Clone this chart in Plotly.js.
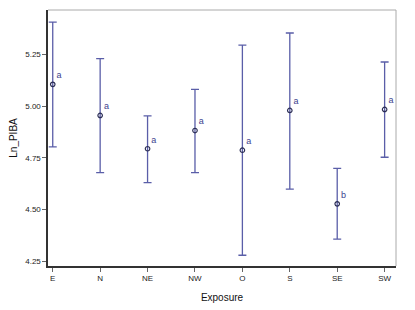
<!DOCTYPE html>
<html>
<head>
<meta charset="utf-8">
<script src="https://cdn.plot.ly/plotly-3.0.1.min.js"></script>
<style>html,body{margin:0;padding:0;background:#fff;}#chart{width:415px;height:310px;}</style>
</head>
<body>
<div id="chart"></div>
<script>
var categories = ["E","N","NE","NW","O","S","SE","SW"];
var means = [5.105, 4.955, 4.794, 4.882, 4.787, 4.979, 4.528, 4.984];
var upper = [5.405, 5.229, 4.953, 5.081, 5.294, 5.353, 4.699, 5.213];
var lower = [4.803, 4.679, 4.631, 4.679, 4.280, 4.599, 4.358, 4.753];
var groups = ["a","a","a","a","a","a","b","a"];
var yTicks = [4.25, 4.50, 4.75, 5.00, 5.25];
var yTickLabels = ["4.25","4.50","4.75","5.00","5.25"];

var plus = upper.map(function(u,i){return u - means[i];});
var minus = lower.map(function(l,i){return means[i] - l;});
var xIdx = categories.map(function(c,i){return i;});

var font = "'Liberation Sans Narrow', 'Arial Narrow', 'Liberation Sans', Arial, sans-serif";

var traces = [{
  type: 'scatter', mode: 'markers+text',
  x: xIdx, y: means,
  text: groups, textposition: 'top right',
  textfont: {family: font, size: 9, color: '#3c418e'},
  marker: {symbol: 'circle-open', size: 4.5, color: '#2b2d55', line: {width: 1.2, color: '#2b2d55'}},
  error_y: {type: 'data', symmetric: false, array: plus, arrayminus: minus,
            color: '#5a5ea8', thickness: 1.3, width: 4},
  cliponaxis: false,
  showlegend: false, hoverinfo: 'none'
}];

var layout = {
  width: 415, height: 310,
  margin: {l: 48, r: 19, t: 10, b: 44},
  paper_bgcolor: '#ffffff', plot_bgcolor: '#ffffff',
  font: {family: font, size: 8, color: '#222'},
  showlegend: false,
  xaxis: {
    range: [-0.1, 7.24], tickmode: 'array', tickvals: xIdx, ticktext: categories,
    showgrid: false, zeroline: false,
    showline: true, linecolor: '#333', linewidth: 1.6, mirror: false,
    ticks: 'outside', ticklen: 4, tickcolor: '#666', tickwidth: 1,
    tickfont: {family: font, size: 8, color: '#222'},
    title: {text: 'Exposure', font: {family: font, size: 10, color: '#111'}, standoff: 12}
  },
  yaxis: {
    range: [4.228, 5.464], tickmode: 'array', tickvals: yTicks, ticktext: yTickLabels,
    showgrid: false, zeroline: false,
    showline: true, linecolor: '#333', linewidth: 1.6,
    ticks: 'outside', ticklen: 4, tickcolor: '#666', tickwidth: 1,
    tickfont: {family: font, size: 8, color: '#222'},
    title: {text: 'Ln_PIBA', font: {family: font, size: 10, color: '#111'}, standoff: 6}
  },
  shapes: [
    {type: 'line', xref: 'paper', yref: 'paper', x0: 0, x1: 1, y0: 1, y1: 1, line: {color: '#aaa', width: 1}},
    {type: 'line', xref: 'paper', yref: 'paper', x0: 1, x1: 1, y0: 0, y1: 1, line: {color: '#aaa', width: 1}}
  ]
};

Plotly.newPlot('chart', traces, layout, {displayModeBar: false, staticPlot: true});
</script>
</body>
</html>
